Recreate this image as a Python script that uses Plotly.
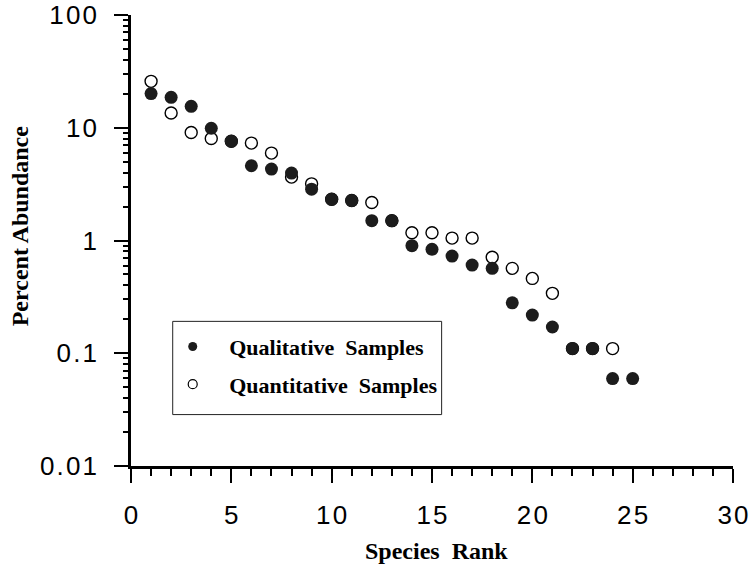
import plotly.graph_objects as go

# ---- data ----
rank_qual = list(range(1, 26))
qual_pct = [20.1, 18.6, 15.5, 9.9, 7.6, 4.6, 4.3, 3.96, 2.85, 2.32, 2.26, 1.50, 1.50,
            0.90, 0.835, 0.728, 0.606, 0.566, 0.280, 0.218, 0.171, 0.110, 0.110, 0.0596, 0.0596]
rank_quant = list(range(1, 25))
quant_pct = [25.8, 13.5, 9.08, 8.03, 7.6, 7.31, 5.96, 3.65, 3.18, 2.32, 2.26, 2.17, 1.50,
             1.17, 1.17, 1.05, 1.05, 0.71, 0.566, 0.461, 0.34, 0.110, 0.110, 0.110]

ytick_vals = [0.01, 0.1, 1, 10, 100]
ytick_text = ["0.01", "0.1", "1", "10", "100"]
xtick_vals = [0, 5, 10, 15, 20, 25, 30]
xtick_text = ["0", "5", "10", "15", "20", "25", "30"]
series_names = ["Qualitative  Samples", "Quantitative  Samples"]

HS = "\u200a"  # hair space: mimics the wide tracking of the tick digits


def spaced(s):
    return HS.join(s)


y_minor = [k * 10.0 ** e for e in range(-2, 2) for k in range(2, 10)]

SERIF = "Liberation Serif, Times New Roman, serif"
SANS = "Liberation Sans, Arial, Helvetica, sans-serif"
DARK = "#1c1c1c"
NB = "\u00a0"

fig = go.Figure()
fig.add_trace(go.Scatter(
    x=rank_quant, y=quant_pct, mode="markers", showlegend=False,
    marker=dict(symbol="circle", size=12, color="white", line=dict(color="black", width=1.4))))
fig.add_trace(go.Scatter(
    x=rank_qual, y=qual_pct, mode="markers", showlegend=False,
    marker=dict(symbol="circle", size=13, color=DARK, line=dict(width=0))))
# legend-only entries (smaller symbols, as in the reference)
fig.add_trace(go.Scatter(
    x=[None], y=[None], mode="markers", name=NB * 3 + series_names[0], legendgroup="a",
    marker=dict(symbol="circle", size=9, color=DARK, line=dict(width=0))))
fig.add_trace(go.Scatter(
    x=[None], y=[None], mode="markers", name=NB * 3 + series_names[1], legendgroup="b",
    marker=dict(symbol="circle", size=9, color="white", line=dict(color="black", width=1.2))))

fig.update_layout(
    width=756, height=568,
    margin=dict(l=131, r=23, t=15, b=102, autoexpand=False),
    paper_bgcolor="white", plot_bgcolor="white",
    showlegend=True,
    legend=dict(
        x=0.0693, y=0.311, xanchor="left", yanchor="top",
        borderwidth=0, bgcolor="rgba(0,0,0,0)",
        font=dict(family=SERIF, size=22, color="black", weight="bold"),
        tracegroupgap=6, itemwidth=30,
    ),
    shapes=[
        dict(type="rect", xref="paper", yref="paper", x0=0.0693, x1=0.516, y0=0.114, y1=0.3207,
             line=dict(color="#222222", width=1), fillcolor="rgba(0,0,0,0)", layer="above"),
    ],
    annotations=[
        dict(text="Percent Abundance", xref="paper", yref="paper", x=-0.184, y=0.532,
             xanchor="center", yanchor="middle", textangle=-90, showarrow=False,
             font=dict(family=SERIF, size=24, color="black", weight="bold")),
        dict(text="Species  Rank", xref="paper", yref="paper", x=0.507, y=-0.188,
             xanchor="center", yanchor="middle", showarrow=False,
             font=dict(family=SERIF, size=24, color="black", weight="bold")),
    ],
)

fig.update_xaxes(
    range=[0, 30], tickvals=xtick_vals, ticktext=[spaced(t) for t in xtick_text],
    showgrid=False, zeroline=False, automargin=False, ticklabeloverflow="allow",
    showline=True, linecolor="black", linewidth=2.5,
    ticks="outside", ticklen=14, tickwidth=2, tickcolor="black",
    tickfont=dict(family=SANS, size=26, color="black"), ticklabelstandoff=10,
    minor=dict(ticks="outside", ticklen=7, tickwidth=2, tickcolor="black", dtick=1, showgrid=False),
)
fig.update_yaxes(
    type="log", range=[-2, 2], tickvals=ytick_vals, ticktext=[spaced(t) for t in ytick_text],
    showgrid=False, zeroline=False, automargin=False, ticklabeloverflow="allow",
    showline=True, linecolor="black", linewidth=2.5,
    ticks="outside", ticklen=14, tickwidth=2, tickcolor="black",
    tickfont=dict(family=SANS, size=26, color="black"), ticklabelstandoff=12,
    minor=dict(ticks="outside", ticklen=5, tickwidth=1.5, tickcolor="black",
               tickvals=y_minor, showgrid=False),
)

# remove the browser's default 8px body margin so the figure sits at the page origin
fig.write_html("out.html", config={"displayModeBar": False},
               post_script="document.body.style.margin='0';")
